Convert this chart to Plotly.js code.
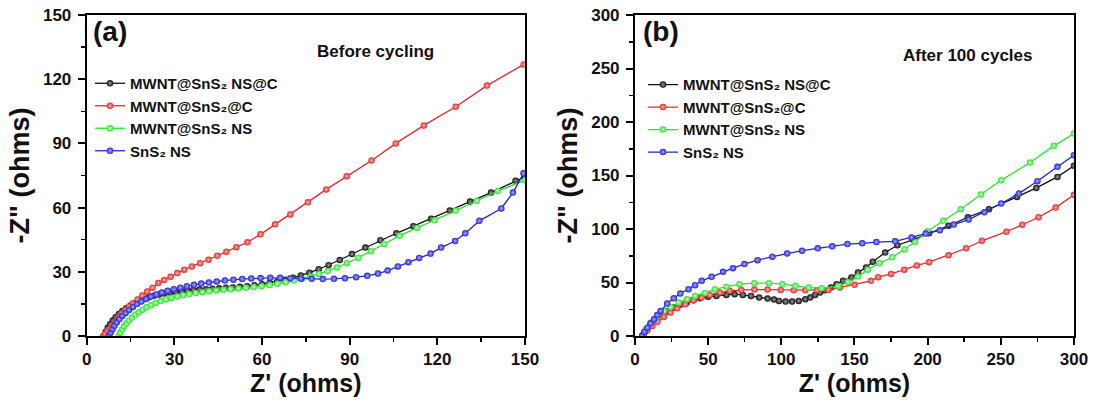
<!DOCTYPE html>
<html>
<head>
<meta charset="utf-8">
<script src="https://cdn.plot.ly/plotly-3.0.1.min.js"></script>
<style>html,body{margin:0;padding:0;background:#fff;}#chart{width:1098px;height:400px;}</style>
</head>
<body>
<div id="chart"></div>
<script>
// ---------- Series names ----------
const seriesNames = ['MWNT@SnS\u2082 NS@C', 'MWNT@SnS\u2082@C', 'MWNT@SnS\u2082 NS', 'SnS\u2082 NS'];

// ---------- Panel (a): Before cycling ----------
const aBlackX = [5.9, 6.5, 7.2, 8.0, 8.9, 9.9, 11.0, 12.2, 13.5, 15.0, 16.5, 18.0, 19.6, 21.3, 23.0, 24.8, 26.6, 28.5, 30.4, 32.4, 34.4, 36.5, 38.6, 40.8, 43.0, 45.3, 47.6, 50.0, 52.4, 54.9, 57.4, 60.0, 62.6, 65.2, 67.9, 70.6, 73.3, 76.2, 79.4, 82.8, 86.6, 90.8, 95.4, 100.5, 106.0, 111.8, 117.9, 124.3, 131.2, 138.4, 146.8, 150];
const aBlackY = [0, 2.0, 3.8, 5.5, 7.2, 8.8, 10.3, 11.7, 13.0, 14.3, 15.4, 16.4, 17.3, 18.1, 18.8, 19.4, 19.9, 20.3, 20.7, 21.0, 21.3, 21.5, 21.7, 21.9, 22.1, 22.3, 22.5, 22.7, 23.0, 23.3, 23.7, 24.2, 24.8, 25.5, 26.3, 27.2, 28.3, 29.6, 31.2, 33.1, 35.5, 38.3, 41.3, 44.8, 48.0, 51.3, 54.8, 58.6, 62.8, 67.0, 72.5, 74.4];

const aRedX = [5.6, 6.3, 7.1, 8.0, 8.9, 9.9, 10.9, 12.0, 13.2, 14.5, 15.9, 17.4, 19.0, 20.7, 22.5, 24.5, 26.5, 28.7, 31.0, 33.4, 36.0, 38.8, 41.7, 44.7, 47.8, 51.2, 55.0, 59.5, 64.5, 69.7, 75.7, 82.0, 89.0, 97.5, 105.8, 115.4, 126.3, 137.0, 149.6];
const aRedY = [0, 1.2, 2.4, 3.6, 5.0, 6.8, 8.8, 10.5, 12.1, 13.8, 15.3, 17.0, 18.9, 20.8, 22.6, 24.8, 26.2, 27.7, 29.4, 31.0, 32.5, 34.0, 35.6, 37.5, 39.4, 41.5, 43.8, 47.5, 52.2, 56.8, 62.5, 68.5, 74.6, 82.0, 90.0, 98.4, 107.1, 117.0, 126.9];

const aGreenX = [11.0, 11.5, 12.1, 12.8, 13.6, 14.5, 15.5, 16.6, 17.8, 19.1, 20.5, 22.0, 23.6, 25.3, 27.1, 29.0, 31.0, 33.0, 35.1, 37.3, 39.6, 41.9, 44.3, 46.8, 49.3, 51.9, 54.5, 57.2, 59.9, 62.6, 65.3, 68.1, 70.9, 73.7, 76.6, 79.5, 82.5, 85.7, 89.1, 93.0, 97.3, 101.8, 107.1, 113.1, 119.1, 126.3, 133.5, 140.7, 150];
const aGreenY = [0, 1.5, 3.0, 4.5, 5.9, 7.3, 8.6, 9.9, 11.1, 12.3, 13.4, 14.4, 15.4, 16.3, 17.1, 17.8, 18.5, 19.1, 19.6, 20.1, 20.5, 20.9, 21.3, 21.6, 21.9, 22.2, 22.5, 22.9, 23.3, 23.8, 24.4, 25.1, 25.9, 26.8, 27.8, 29.0, 30.4, 32.0, 34.0, 36.6, 39.6, 43.0, 46.9, 50.5, 54.1, 58.6, 63.2, 67.7, 72.8];

const aBlueX = [7.7, 8.2, 8.8, 9.5, 10.3, 11.2, 12.2, 13.3, 14.5, 15.8, 17.2, 18.7, 20.3, 22.0, 23.8, 25.7, 27.7, 29.8, 32.0, 34.3, 36.7, 39.2, 41.8, 44.5, 47.3, 50.2, 53.2, 56.3, 59.5, 62.8, 66.2, 69.7, 73.3, 77.0, 80.8, 84.6, 88.4, 92.2, 96.0, 99.7, 103.0, 106.5, 110.1, 113.8, 117.7, 121.3, 126.1, 129.6, 134.4, 141.9, 145.9, 149.5];
const aBlueY = [0, 1.6, 3.2, 4.8, 6.4, 7.9, 9.4, 10.8, 12.2, 13.6, 14.9, 16.1, 17.3, 18.4, 19.4, 20.3, 21.1, 21.9, 22.6, 23.3, 23.9, 24.5, 25.0, 25.5, 25.9, 26.3, 26.6, 26.9, 27.1, 27.2, 27.2, 27.0, 26.8, 26.7, 26.6, 26.7, 27.0, 27.5, 28.1, 29.2, 30.6, 32.5, 34.5, 36.5, 38.5, 41.3, 44.4, 48.0, 53.8, 59.6, 67.0, 76.0];

// ---------- Panel (b): After 100 cycles ----------
const bBlackX = [5.0, 6.0, 7.4, 10.3, 14.2, 17.5, 22.0, 26.5, 31.0, 35.5, 40.0, 44.5, 50.1, 55.7, 62.5, 68.1, 73.7, 79.3, 84.9, 90.6, 95.0, 98.4, 102.9, 107.4, 111.9, 116.4, 119.8, 123.1, 126.5, 129.9, 133.9, 137.8, 142.2, 147.9, 152.4, 158.0, 162.5, 171.0, 179.4, 190.2, 201.0, 214.3, 227.5, 241.9, 261.1, 274.3, 288.7, 300];
const bBlackY = [0, 2.2, 4.7, 10.3, 15.6, 19.7, 23.4, 26.6, 29.1, 31.3, 33.4, 35.3, 36.6, 37.5, 38.4, 39.1, 38.4, 37.5, 35.9, 35.0, 34.1, 32.8, 32.2, 32.2, 32.8, 34.4, 35.9, 38.4, 40.6, 42.8, 45.3, 48.4, 51.6, 54.7, 59.4, 64.1, 69.4, 78.0, 84.8, 90.0, 96.0, 103.0, 111.0, 118.5, 130.0, 138.4, 148.7, 159.0];

const bRedX = [5.5, 8.5, 11.9, 15.3, 19.8, 24.3, 28.8, 34.4, 40.0, 45.6, 51.2, 58.0, 64.7, 72.6, 81.6, 90.6, 99.6, 108.5, 116.4, 124.3, 132.1, 140.0, 150.1, 161.3, 166.2, 175.0, 184.0, 192.6, 201.0, 214.3, 226.3, 237.1, 253.9, 264.7, 275.8, 287.5, 300];
const bRedY = [0, 5.3, 9.4, 13.4, 17.8, 21.9, 25.9, 29.7, 33.4, 35.9, 38.4, 40.6, 42.2, 43.1, 43.4, 43.4, 43.1, 42.8, 42.8, 42.8, 43.1, 45.3, 47.8, 51.6, 55.0, 58.0, 62.0, 66.0, 69.0, 75.5, 82.0, 89.0, 97.5, 104.0, 111.0, 120.0, 132.0];

const bGreenX = [5.2, 7.4, 10.8, 15.3, 19.8, 24.3, 29.9, 35.5, 41.1, 47.9, 54.6, 62.5, 71.5, 81.6, 91.7, 100.7, 109.7, 118.7, 127.6, 138.9, 145.6, 152.4, 159.1, 167.0, 175.8, 184.2, 191.4, 199.9, 210.7, 222.7, 236.4, 250.3, 270.0, 286.3, 300];
const bGreenY = [0, 6.3, 12.5, 18.8, 23.4, 27.2, 31.3, 34.4, 37.5, 40.3, 43.8, 45.9, 48.4, 49.4, 49.4, 48.4, 46.9, 45.3, 44.7, 46.6, 50.5, 55.5, 62.0, 68.0, 73.5, 80.8, 87.9, 97.9, 107.6, 118.5, 132.2, 145.6, 162.1, 177.7, 189.3];

const bBlueX = [4.8, 6.5, 8.5, 10.7, 13.0, 15.2, 17.5, 22.0, 26.5, 31.0, 36.6, 41.1, 45.6, 52.4, 60.2, 67.0, 74.8, 83.8, 93.9, 104.0, 114.2, 124.9, 134.8, 145.2, 155.3, 165.0, 177.8, 189.0, 198.7, 208.3, 217.9, 228.0, 238.8, 250.3, 262.3, 275.0, 288.7, 300];
const bBlueY = [0, 4.0, 7.8, 11.8, 15.6, 19.6, 23.4, 30.3, 35.3, 39.7, 43.8, 47.5, 51.6, 55.3, 60.0, 63.4, 67.2, 70.9, 74.1, 77.2, 79.7, 81.9, 83.8, 85.9, 86.6, 87.8, 88.5, 92.0, 95.7, 98.8, 104.1, 108.8, 115.7, 123.8, 133.1, 144.7, 158.1, 169.0];

// ---------- Tick / range settings ----------
const aRange = [0, 150], aTicks = [0, 30, 60, 90, 120, 150];
const bRange = [0, 300], bTicks = [0, 50, 100, 150, 200, 250, 300];

// ---------- Styles ----------
const lineColors = ['#111111', '#e02a2a', '#2ee02e', '#2424cc'];
const centerColors = ['#9a9a9a', '#ffb0b0', '#c8ffc8', '#a8a8ff'];
const FONT = 'Liberation Sans, Arial, sans-serif';

function mk(x, y, i, xa, ya, leg) {
  return {
    type: 'scatter', mode: 'lines+markers', x: x, y: y,
    xaxis: xa, yaxis: ya, legend: leg, name: seriesNames[i], showlegend: true,
    line: {color: lineColors[i], width: 1.3},
    marker: {size: 6.5, color: lineColors[i], gradient: {type: 'radial', color: centerColors[i]}, line: {width: 0}}
  };
}

const traces = [
  mk(aBlackX, aBlackY, 0, 'x', 'y', 'legend'),
  mk(aRedX, aRedY, 1, 'x', 'y', 'legend'),
  mk(aGreenX, aGreenY, 2, 'x', 'y', 'legend'),
  mk(aBlueX, aBlueY, 3, 'x', 'y', 'legend'),
  mk(bBlackX, bBlackY, 0, 'x2', 'y2', 'legend2'),
  mk(bRedX, bRedY, 1, 'x2', 'y2', 'legend2'),
  mk(bGreenX, bGreenY, 2, 'x2', 'y2', 'legend2'),
  mk(bBlueX, bBlueY, 3, 'x2', 'y2', 'legend2')
];

function axis(extra) {
  return Object.assign({
    showline: true, linecolor: '#000', linewidth: 2, mirror: true,
    ticks: 'outside', ticklen: 7, tickwidth: 2, tickcolor: '#000',
    showgrid: false, zeroline: false, fixedrange: true,
    tickfont: {family: FONT, size: 17, weight: 'bold', color: '#111'},
    tickmode: 'array'
  }, extra);
}

const xTitle = {text: "Z' (ohms)", font: {family: FONT, size: 25, weight: 'bold', color: '#111'}, standoff: 0};
const yTitle = {text: '-Z" (ohms)', font: {family: FONT, size: 27, weight: 'bold', color: '#111'}, standoff: 6};
const legFont = {family: FONT, size: 15, weight: 'bold', color: '#111'};

const layout = {
  width: 1098, height: 400,
  margin: {l: 0, r: 0, t: 15, b: 64},
  paper_bgcolor: '#fff', plot_bgcolor: '#fff',
  font: {family: FONT, color: '#111'},
  xaxis: axis({domain: [0.0790, 0.4781], range: aRange, tickvals: aTicks, anchor: 'y', title: xTitle,
    minor: {ticks: 'outside', ticklen: 4, tickwidth: 1.5, tickcolor: '#000', dtick: 15, tick0: 0, showgrid: false}}),
  yaxis: axis({domain: [0, 1], range: aRange, tickvals: aTicks, anchor: 'x', title: yTitle, ticklabelstandoff: 3,
    minor: {ticks: 'outside', ticklen: 4, tickwidth: 1.5, tickcolor: '#000', dtick: 15, tick0: 0, showgrid: false}}),
  xaxis2: axis({domain: [0.5783, 0.9781], range: bRange, tickvals: bTicks, anchor: 'y2', title: xTitle,
    minor: {ticks: 'outside', ticklen: 4, tickwidth: 1.5, tickcolor: '#000', dtick: 25, tick0: 0, showgrid: false}}),
  yaxis2: axis({domain: [0, 1], range: bRange, tickvals: bTicks, anchor: 'x2', title: yTitle, ticklabelstandoff: 3,
    minor: {ticks: 'outside', ticklen: 4, tickwidth: 1.5, tickcolor: '#000', dtick: 25, tick0: 0, showgrid: false}}),
  legend: {x: 0.082, y: 0.838, xanchor: 'left', yanchor: 'top', bgcolor: 'rgba(0,0,0,0)', borderwidth: 0,
    font: legFont, tracegroupgap: 0},
  legend2: {x: 0.5856, y: 0.834, xanchor: 'left', yanchor: 'top', bgcolor: 'rgba(0,0,0,0)', borderwidth: 0,
    font: legFont, tracegroupgap: 0},
  annotations: [
    {text: '(a)', xref: 'paper', yref: 'paper', x: 0.1002, y: 0.950, xanchor: 'center', yanchor: 'middle', showarrow: false,
      font: {family: FONT, size: 28, weight: 'bold', color: '#111'}},
    {text: '(b)', xref: 'paper', yref: 'paper', x: 0.602, y: 0.950, xanchor: 'center', yanchor: 'middle', showarrow: false,
      font: {family: FONT, size: 28, weight: 'bold', color: '#111'}},
    {text: 'Before cycling', xref: 'paper', yref: 'paper', x: 0.3424, y: 0.885, xanchor: 'center', yanchor: 'middle', showarrow: false,
      font: {family: FONT, size: 17, weight: 'bold', color: '#111'}},
    {text: 'After 100 cycles', xref: 'paper', yref: 'paper', x: 0.8816, y: 0.875, xanchor: 'center', yanchor: 'middle', showarrow: false,
      font: {family: FONT, size: 17, weight: 'bold', color: '#111'}}
  ]
};

Plotly.newPlot('chart', traces, layout, {displayModeBar: false, staticPlot: true});
</script>
</body>
</html>
